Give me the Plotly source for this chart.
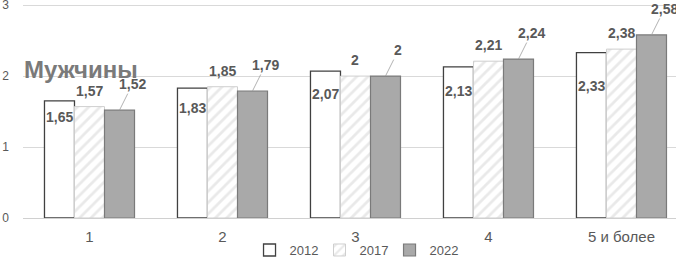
import plotly.graph_objects as go

categories = ["1", "2", "3", "4", "5 и более"]
years = ["2012", "2017", "2022"]
v2012 = [1.65, 1.83, 2.07, 2.13, 2.33]
v2017 = [1.57, 1.85, 2.00, 2.21, 2.38]
v2022 = [1.52, 1.79, 2.00, 2.24, 2.58]
labels2012 = ["1,65", "1,83", "2,07", "2,13", "2,33"]
labels2017 = ["1,57", "1,85", "2", "2,21", "2,38"]
labels2022 = ["1,52", "1,79", "2", "2,24", "2,58"]
y_ticks = [0, 1, 2, 3]

# label placement (pixels) for the 2012 series, placed inside bars
shift2012 = [-16, -20, -23, -24, -33]

FONT = "Liberation Sans, Arial, sans-serif"
LBL = "#595959"

fig = go.Figure()
fig.add_trace(go.Bar(
    name=years[0], x=categories, y=v2012,
    marker=dict(color="white", line=dict(color="#404040", width=1.3)),
))
fig.add_trace(go.Bar(
    name=years[1], x=categories, y=v2017,
    marker=dict(color="white", line=dict(color="#cfcfcf", width=1),
                pattern=dict(shape="/", fgcolor="#d4d4d4", bgcolor="white",
                             size=8, solidity=0.35)),
))
fig.add_trace(go.Bar(
    name=years[2], x=categories, y=v2022,
    marker=dict(color="#a9a9a9", line=dict(color="#7a7a7a", width=1.2)),
))

bar_px = 30
ann = []
for i, c in enumerate(categories):
    ann.append(dict(x=i, y=v2012[i], text="<b>%s</b>" % labels2012[i], showarrow=False,
                    xshift=-bar_px, yshift=shift2012[i], font=dict(size=14, color=LBL, family=FONT)))
    ann.append(dict(x=i, y=v2017[i], text="<b>%s</b>" % labels2017[i], showarrow=False,
                    yshift=16, font=dict(size=14, color=LBL, family=FONT)))
    ann.append(dict(x=i, y=v2022[i], text="<b>%s</b>" % labels2022[i], showarrow=True,
                    arrowhead=0, arrowwidth=0.8, arrowcolor="#a0a0a0", ax=13, ay=-26,
                    xshift=bar_px, font=dict(size=14, color=LBL, family=FONT)))
ann.append(dict(xref="paper", yref="paper", x=0, xshift=-1, y=(218 - 70) / 215, xanchor="left",
                yanchor="middle", text="<b>Мужчины</b>", showarrow=False,
                font=dict(size=24, color="#7a7a7a", family=FONT)))

fig.update_layout(
    width=676, height=259,
    margin=dict(l=23, r=0, t=3, b=41, autoexpand=False),
    paper_bgcolor="white", plot_bgcolor="white",
    barmode="group", bargap=0.323, bargroupgap=0,
    font=dict(family=FONT, color=LBL),
    annotations=ann,
    showlegend=True,
    legend=dict(orientation="h", x=0.5077, xanchor="center", y=-0.149, yanchor="middle",
                font=dict(size=13, color=LBL, family=FONT), itemwidth=30,
                entrywidth=25, entrywidthmode="pixels",
                bgcolor="rgba(0,0,0,0)"),
)
fig.update_xaxes(range=[-0.5, 4.41], showgrid=False, showline=False, ticks="",
                 automargin=False,
                 tickfont=dict(size=15, color=LBL, family=FONT), ticklabelstandoff=8)
fig.update_yaxes(range=[0, 3.03], tickvals=y_ticks, showgrid=True, gridcolor="#d9d9d9",
                 gridwidth=1, zeroline=True, zerolinecolor="#d0d0d0", zerolinewidth=1,
                 automargin=False, ticklabeloverflow="allow",
                 showline=False, tickfont=dict(size=12, color=LBL, family=FONT),
                 ticklabelstandoff=13)

fig.write_html("out.html", config={"displayModeBar": False},
               post_script="document.body.style.margin='0';")
